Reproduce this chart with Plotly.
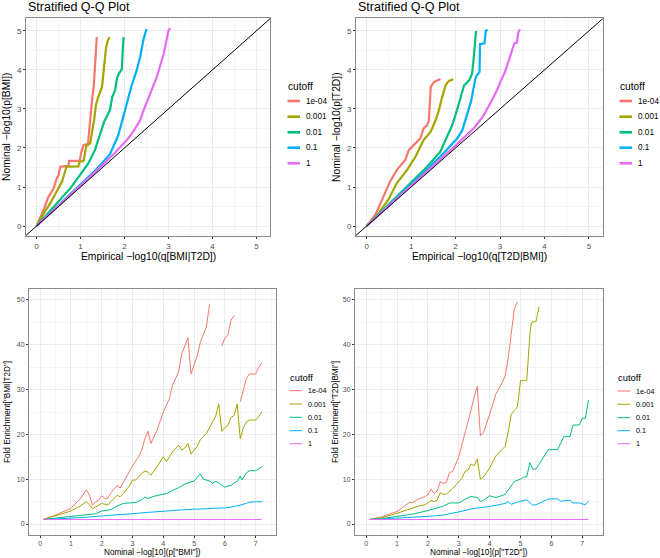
import plotly.graph_objects as go

W, H = 660, 558

cutoffs = ["1e-04", "0.001", "0.01", "0.1", "1"]
colors = ["#F8766D", "#A3A500", "#00BF7D", "#00B0F6", "#E76BF3"]

# ---------- Panel 1: Stratified Q-Q, BMI | T2D ----------
qq1_red_x = [0, 0.08, 0.16, 0.22, 0.27, 0.33, 0.39, 0.46, 0.50, 0.54, 0.73, 0.74, 0.98, 1.02, 1.07, 1.17, 1.20, 1.22, 1.26, 1.30, 1.33, 1.35, 1.37]
qq1_red_y = [0, 0.2, 0.41, 0.6, 0.75, 0.85, 0.97, 1.22, 1.3, 1.52, 1.54, 1.67, 1.67, 1.9, 2.08, 2.1, 2.4, 2.72, 3.2, 3.57, 4.1, 4.5, 4.84]
qq1_olive_x = [0, 0.15, 0.31, 0.46, 0.58, 0.68, 0.95, 0.98, 1.07, 1.13, 1.22, 1.26, 1.31, 1.35, 1.40, 1.49, 1.52, 1.54, 1.58, 1.62, 1.66]
qq1_olive_y = [0, 0.3, 0.58, 0.88, 1.14, 1.52, 1.53, 1.65, 1.67, 2.05, 2.12, 2.4, 2.72, 3.1, 3.3, 3.57, 3.9, 4.17, 4.56, 4.75, 4.84]
qq1_green_x = [0, 0.2, 0.46, 0.77, 0.99, 1.18, 1.33, 1.45, 1.54, 1.67, 1.72, 1.79, 1.83, 1.88, 1.94, 1.96, 1.98]
qq1_green_y = [0, 0.25, 0.58, 0.97, 1.31, 1.61, 1.95, 2.38, 2.68, 2.97, 3.3, 3.49, 3.8, 3.92, 4.02, 4.5, 4.84]
qq1_blue_x = [0, 0.3, 0.61, 0.99, 1.37, 1.67, 1.85, 1.95, 2.05, 2.15, 2.28, 2.36, 2.43, 2.47, 2.50]
qq1_blue_y = [0, 0.32, 0.64, 1.04, 1.46, 1.84, 2.3, 2.7, 3.15, 3.55, 4.0, 4.35, 4.77, 4.95, 5.05]
qq1_pink_x = [0, 0.5, 1.0, 1.37, 1.75, 2.05, 2.2, 2.35, 2.43, 2.6, 2.73, 2.89, 2.96, 3.0, 3.04]
qq1_pink_y = [0, 0.51, 1.02, 1.42, 1.84, 2.2, 2.42, 2.7, 2.95, 3.45, 3.8, 4.4, 4.75, 5.0, 5.07]

# ---------- Panel 2: Stratified Q-Q, T2D | BMI ----------
qq2_red_x = [0, 0.2, 0.38, 0.53, 0.68, 0.87, 0.95, 1.06, 1.21, 1.28, 1.36, 1.40, 1.42, 1.44, 1.51, 1.66]
qq2_red_y = [0, 0.3, 0.76, 1.15, 1.44, 1.70, 1.95, 2.08, 2.25, 2.5, 2.58, 2.71, 3.2, 3.56, 3.69, 3.77]
qq2_olive_x = [0, 0.25, 0.49, 0.68, 0.91, 1.10, 1.28, 1.44, 1.55, 1.62, 1.70, 1.78, 1.85, 1.95]
qq2_olive_y = [0, 0.3, 0.68, 1.10, 1.44, 1.78, 2.2, 2.42, 2.71, 2.95, 3.31, 3.62, 3.72, 3.76]
qq2_green_x = [0, 0.3, 0.6, 0.98, 1.36, 1.66, 1.85, 1.93, 2.04, 2.12, 2.19, 2.31, 2.37, 2.40, 2.43, 2.46]
qq2_green_y = [0, 0.33, 0.66, 1.1, 1.52, 1.91, 2.4, 2.6, 3.0, 3.35, 3.6, 3.74, 3.9, 4.2, 4.6, 5.0]
qq2_blue_x = [0, 0.5, 0.98, 1.36, 1.74, 2.04, 2.15, 2.25, 2.35, 2.44, 2.47, 2.54, 2.55, 2.65, 2.68, 2.72]
qq2_blue_y = [0, 0.53, 1.04, 1.45, 1.88, 2.25, 2.45, 2.8, 3.2, 3.75, 3.85, 3.95, 4.66, 4.68, 5.0, 5.03]
qq2_pink_x = [0, 0.5, 1.0, 1.5, 2.0, 2.42, 2.6, 2.76, 2.92, 3.03, 3.11, 3.22, 3.27, 3.32, 3.38, 3.41, 3.45]
qq2_pink_y = [0, 0.51, 1.02, 1.54, 2.06, 2.52, 2.78, 3.1, 3.45, 3.75, 3.94, 4.32, 4.53, 4.68, 4.7, 4.96, 5.04]

# ---------- Panel 3: Fold enrichment BMI | T2D ----------
fe1_red_x = [0.1, 0.5, 1.0, 1.3, 1.5, 1.6, 1.7, 1.8, 1.9, 2.0, 2.1, 2.2, 2.3, 2.5, 2.6, 2.7, 2.8, 3.0, 3.2, 3.3, 3.4, 3.5, 3.6, 3.7, 3.8, 4.0, 4.2, 4.3, 4.5, 4.6, 4.8, 4.9, 5.1, 5.2, 5.4, 5.5,
             5.7, 5.9, 6.0, 6.1, 6.2, 6.3, 6.4, 6.5, 6.6, 6.7, 6.8, 7.0, 7.1, 7.2]
fe1_red_y = [1.0, 2.0, 3.5, 5.6, 7.6, 6.5, 4.2, 5.0, 5.3, 6.3, 5.7, 5.8, 7.0, 8.6, 8.0, 9.2, 10.5, 13.0, 15.0, 16.5, 19.0, 20.7, 18.0, 19.7, 21.0, 25.0, 28.0, 31.0, 34.0, 38.0, 41.5, 33.5, 37.5, 40.5, 44.0, 49.0,
             None, 39.7, 41.5, 42.2, 45.5, 46.5, None, 27.3, 30.0, 32.5, 33.5, 33.5, 35.0, 36.0]
fe1_olive_x = [0.1, 0.5, 1.0, 1.3, 1.5, 1.6, 1.7, 1.8, 2.0, 2.1, 2.2, 2.3, 2.5, 2.6, 2.7, 2.9, 3.0, 3.1, 3.3, 3.4, 3.5, 3.6, 3.8, 4.0, 4.1, 4.2, 4.3, 4.5, 4.6, 4.7, 4.8, 4.9, 5.1, 5.2, 5.4, 5.6, 5.7, 5.8, 5.9, 6.0, 6.1, 6.2, 6.3, 6.4, 6.5, 6.6, 6.7, 6.8, 7.0, 7.1, 7.2]
fe1_olive_y = [1.0, 1.8, 2.9, 4.0, 5.0, 4.3, 3.4, 3.8, 4.6, 4.4, 4.2, 5.0, 6.4, 6.1, 6.8, 8.5, 9.8, 9.8, 11.3, 11.8, 11.6, 10.9, 12.8, 15.0, 13.9, 15.0, 16.1, 17.6, 16.5, 17.0, 18.0, 15.6, 17.3, 18.8, 20.2, 22.8, 24.0, 26.8, 20.7, 21.5, 22.0, 23.8, 24.2, 26.8, 19.0, 21.5, 22.8, 23.2, 23.2, 24.0, 25.0]
fe1_green_x = [0.1, 0.5, 1.0, 1.5, 1.8, 2.0, 2.2, 2.3, 2.5, 2.7, 2.9, 3.1, 3.3, 3.4, 3.5, 3.7, 3.9, 4.1, 4.3, 4.5, 4.7, 4.9, 5.0, 5.2, 5.3, 5.5, 5.6, 5.7, 5.8, 6.0, 6.1, 6.2, 6.3, 6.4, 6.5, 6.55, 6.7, 6.8, 7.0, 7.1, 7.2]
fe1_green_y = [1.0, 1.3, 1.7, 2.2, 2.3, 2.9, 3.1, 3.2, 4.0, 4.6, 4.7, 4.8, 5.4, 6.0, 5.7, 6.2, 6.5, 6.8, 7.5, 8.1, 8.9, 9.4, 9.6, 11.2, 10.0, 9.6, 9.1, 9.5, 9.2, 8.2, 8.5, 8.6, 9.2, 9.5, 10.7, 9.8, 11.4, 11.9, 11.9, 12.3, 12.8]
fe1_blue_x = [0.1, 0.5, 1.0, 1.5, 2.0, 2.5, 3.0, 3.5, 4.0, 4.5, 5.0, 5.5, 6.0, 6.3, 6.5, 6.7, 6.8, 7.0, 7.2]
fe1_blue_y = [1.0, 1.1, 1.3, 1.5, 1.8, 2.0, 2.3, 2.6, 2.9, 3.1, 3.3, 3.4, 3.6, 3.9, 4.2, 4.6, 4.9, 4.9, 5.0]
fe1_pink_x = [0.1, 7.2]
fe1_pink_y = [1.0, 1.0]

# ---------- Panel 4: Fold enrichment T2D | BMI ----------
fe2_red_x = [0.1, 0.5, 1.0, 1.4, 1.5, 1.7, 1.9, 2.0, 2.1, 2.2, 2.3, 2.4, 2.5, 2.6, 2.7, 2.8, 3.0, 3.2, 3.4, 3.5, 3.6, 3.7, 3.8, 4.0, 4.2, 4.4, 4.5, 4.6, 4.7, 4.8, 4.9]
fe2_red_y = [1.0, 1.6, 2.8, 4.8, 4.8, 5.6, 6.1, 6.5, 7.8, 6.8, 7.4, 9.4, 9.1, 9.3, 11.5, 11.7, 15.0, 20.0, 25.5, 28.5, 30.7, 19.7, 20.4, 24.5, 29.0, 31.5, 33.0, 37.0, 43.0, 48.1, 49.6]
fe2_olive_x = [0.1, 0.5, 1.0, 1.4, 1.5, 1.7, 1.9, 2.0, 2.1, 2.2, 2.3, 2.4, 2.5, 2.6, 2.8, 3.0, 3.1, 3.2, 3.3, 3.4, 3.5, 3.6, 3.7, 3.8, 4.0, 4.2, 4.4, 4.5, 4.6, 4.7, 4.8, 4.9, 5.0, 5.2, 5.3, 5.35, 5.5, 5.6]
fe2_olive_y = [1.0, 1.4, 2.4, 3.4, 3.5, 4.0, 4.3, 4.7, 5.3, 5.0, 5.3, 7.0, 6.6, 6.7, 7.9, 9.6, 10.2, 11.7, 12.0, 13.4, 13.0, 14.5, 10.0, 10.5, 12.5, 15.2, 16.5, 17.3, 20.5, 24.5, 25.3, 26.2, 32.0, 32.0, 42.0, 45.0, 45.2, 48.5]
fe2_green_x = [0.1, 0.5, 1.0, 1.5, 2.0, 2.3, 2.5, 2.7, 3.0, 3.2, 3.4, 3.5, 3.6, 3.7, 3.8, 4.0, 4.2, 4.5, 4.6, 4.8, 5.0, 5.1, 5.2, 5.3, 5.4, 5.5, 5.9, 6.2, 6.4, 6.6, 6.7, 6.9, 7.0, 7.1, 7.2]
fe2_green_y = [1.0, 1.2, 1.7, 2.2, 3.0, 3.6, 4.0, 4.7, 4.7, 5.5, 6.2, 6.0, 6.0, 5.0, 5.3, 6.3, 5.9, 6.6, 7.5, 9.5, 10.0, 10.5, 10.5, 13.7, 12.2, 12.3, 16.6, 16.6, 19.5, 19.5, 22.1, 22.1, 23.6, 23.6, 27.7]
fe2_blue_x = [0.1, 0.5, 1.0, 1.5, 2.0, 2.5, 3.0, 3.5, 4.0, 4.5, 4.6, 4.7, 4.9, 5.2, 5.4, 5.5, 5.9, 6.2, 6.3, 6.6, 6.7, 6.9, 7.1, 7.2]
fe2_blue_y = [1.0, 1.1, 1.3, 1.5, 1.7, 2.0, 2.7, 3.5, 3.9, 4.6, 5.0, 4.4, 4.9, 5.4, 4.2, 4.3, 5.6, 5.6, 5.1, 5.3, 4.7, 4.7, 4.3, 5.1]
fe2_pink_x = [0.1, 7.2]
fe2_pink_y = [1.0, 1.0]

diag = [-1, 7]

# ---------- text ----------
plot_title = "Stratified Q-Q Plot"
x_titles = ["Empirical −log10(q[BMI|T2D])", "Empirical −log10(q[T2D|BMI])",
            "Nominal −log[10](p[\"BMI\"])", "Nominal −log[10](p[\"T2D\"])"]
y_titles = ["Nominal −log10(p[BMI])", "Nominal −log10(p[T2D])",
            "Fold Enrichment[\"BMI|T2D\"]", "Fold Enrichment[\"T2D|BMI\"]"]
legend_title = "cutoff"

series = [
    [(qq1_red_x, qq1_red_y), (qq1_olive_x, qq1_olive_y), (qq1_green_x, qq1_green_y), (qq1_blue_x, qq1_blue_y), (qq1_pink_x, qq1_pink_y)],
    [(qq2_red_x, qq2_red_y), (qq2_olive_x, qq2_olive_y), (qq2_green_x, qq2_green_y), (qq2_blue_x, qq2_blue_y), (qq2_pink_x, qq2_pink_y)],
    [(fe1_red_x, fe1_red_y), (fe1_olive_x, fe1_olive_y), (fe1_green_x, fe1_green_y), (fe1_blue_x, fe1_blue_y), (fe1_pink_x, fe1_pink_y)],
    [(fe2_red_x, fe2_red_y), (fe2_olive_x, fe2_olive_y), (fe2_green_x, fe2_green_y), (fe2_blue_x, fe2_blue_y), (fe2_pink_x, fe2_pink_y)],
]

# panel geometry in pixels: (left, right, top, bottom)
boxes = [(26, 270, 18, 236), (356, 602.7, 18, 236), (29, 276, 289, 535), (355, 602.7, 289, 535)]
xranges = [[-0.24, 5.31], [-0.24, 5.31], [-0.36, 7.66], [-0.36, 7.66]]
yranges = [[-0.255, 5.33], [-0.255, 5.33], [-2.45, 52.45], [-2.45, 52.45]]
is_top = [True, True, False, False]
ytitle_x = [7, 337, 7, 335]
legend_pos = [(287, 87, [101, 116.7, 132.3, 147.7, 163.3]),
              (619, 87, [101, 116.7, 132.3, 147.7, 163.3]),
              (289, 377, [390.7, 404, 417.3, 430.7, 443.7]),
              (617, 377, [391, 404.3, 417.7, 430.7, 443.7])]

FONT = "Liberation Sans, Arial, sans-serif"
fig = go.Figure()
annotations = []
shapes = []

def px_x(p):
    return p / W

def px_y(p):
    return 1 - p / H

for i in range(4):
    n = "" if i == 0 else str(i + 1)
    xa, ya = "x" + n, "y" + n
    top = is_top[i]
    lw = 2.2 if top else 1.0
    for k, (xs, ys) in enumerate(series[i]):
        fig.add_trace(go.Scatter(x=xs, y=ys, mode="lines", xaxis=xa, yaxis=ya,
                                 line=dict(color=colors[k], width=lw),
                                 connectgaps=False, showlegend=False,
                                 name=cutoffs[k], hoverinfo="skip"))
    if top:
        fig.add_trace(go.Scatter(x=diag, y=diag, mode="lines", xaxis=xa, yaxis=ya,
                                 line=dict(color="black", width=1),
                                 showlegend=False, hoverinfo="skip"))
    l, r, t, b = boxes[i]
    tickfs = 8 if top else 7
    common = dict(showgrid=True, gridcolor="#EBEBEB", gridwidth=1, zeroline=False,
                  ticks="outside", ticklen=2, tickwidth=1, tickcolor="#333333",
                  tickfont=dict(family=FONT, size=tickfs, color="#4D4D4D"),
                  showline=True, mirror=True, linecolor="#8A8A8A", linewidth=1)
    minor = dict(showgrid=True, gridcolor="#F5F5F5", gridwidth=0.6)
    if top:
        xd = dict(tick0=0, dtick=1, minor=dict(dtick=0.5, **minor))
        yd = dict(tick0=0, dtick=1, minor=dict(dtick=0.5, **minor))
    else:
        xd = dict(tick0=0, dtick=1, minor=dict(dtick=0.5, **minor))
        yd = dict(tick0=0, dtick=10, minor=dict(dtick=5, **minor))
    fig.update_layout(**{
        "xaxis" + n: dict(domain=[px_x(l), px_x(r)], range=xranges[i], anchor=ya, **xd, **common),
        "yaxis" + n: dict(domain=[px_y(b), px_y(t)], range=yranges[i], anchor=xa, **yd, **common),
    })
    # axis titles
    cx = (l + r) / 2
    cy = (t + b) / 2
    tfs = 10.3 if top else 8.2
    xty = 256.5 if top else 552
    annotations.append(dict(x=px_x(cx), y=px_y(xty), xref="paper", yref="paper", text=x_titles[i],
                            showarrow=False, xanchor="center", yanchor="middle", borderpad=0,
                            font=dict(family=FONT, size=tfs, color="black")))
    annotations.append(dict(x=px_x(ytitle_x[i]), y=px_y(cy), xref="paper", yref="paper", text=y_titles[i],
                            showarrow=False, xanchor="center", yanchor="middle", textangle=-90,
                            font=dict(family=FONT, size=tfs, color="black")))
    if top:
        annotations.append(dict(x=px_x(l), y=px_y(7.5), xref="paper", yref="paper", text=plot_title,
                                showarrow=False, xanchor="left", yanchor="middle",
                                font=dict(family=FONT, size=12.5, color="black")))
    # legend (ggplot style)
    lx, ly, items = legend_pos[i]
    annotations.append(dict(x=px_x(lx - 1), y=px_y(ly), xref="paper", yref="paper", text=legend_title,
                            showarrow=False, xanchor="left", yanchor="middle",
                            font=dict(family=FONT, size=10.2 if top else 9.4, color="black")))
    for k, yy in enumerate(items):
        shapes.append(dict(type="line", xref="paper", yref="paper",
                           x0=px_x(lx + 0.5), x1=px_x(lx + 13), y0=px_y(yy), y1=px_y(yy),
                           line=dict(color=colors[k], width=2.6 if top else 1.0)))
        annotations.append(dict(x=px_x(lx + 16.5), y=px_y(yy), xref="paper", yref="paper", text=cutoffs[k],
                                showarrow=False, xanchor="left", yanchor="middle",
                                font=dict(family=FONT, size=8.2 if top else 7.2, color="black")))

fig.update_layout(width=W, height=H, margin=dict(l=0, r=0, t=0, b=0),
                  paper_bgcolor="white", plot_bgcolor="white", showlegend=False,
                  annotations=annotations, shapes=shapes,
                  font=dict(family=FONT))

fig.write_html("out.html", config={"displayModeBar": False},
               post_script="document.body.style.margin='0';document.body.style.padding='0';")
